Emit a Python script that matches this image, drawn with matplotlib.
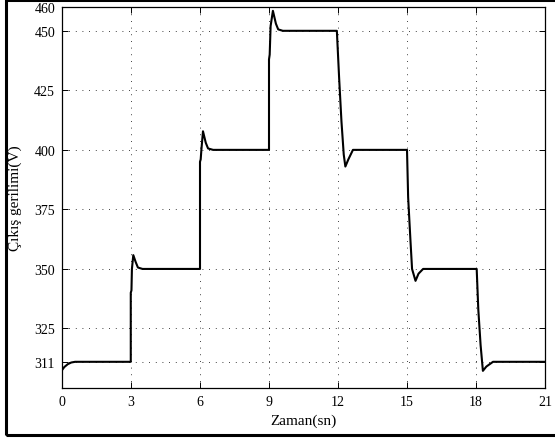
import matplotlib.pyplot as plt
from matplotlib.patches import Rectangle

# output voltage (time in s, voltage in V)
zaman = [0.0, 0.1, 0.25, 0.4, 0.57, 2.99,
         2.99, 3.02, 3.04, 3.1, 3.2, 3.3, 3.5, 6.0,
         6.0, 6.03, 6.06, 6.13, 6.25, 6.35, 6.57, 9.0,
         9.0, 9.03, 9.07, 9.17, 9.3, 9.4, 9.6, 11.95,
         12.05, 12.15, 12.25, 12.32, 12.45, 12.65, 15.0,
         15.05, 15.15, 15.22, 15.37, 15.5, 15.7, 18.03,
         18.1, 18.2, 18.3, 18.45, 18.74, 21.0]
gerilim = [307.5, 308.8, 310.0, 310.7, 311.0, 311.0,
           340.0, 341.0, 350.0, 355.8, 353.0, 350.6, 350.0, 350.0,
           395.0, 396.0, 400.0, 407.8, 403.0, 400.6, 400.0, 400.0,
           438.0, 440.0, 452.0, 458.4, 453.0, 450.6, 450.0, 450.0,
           430.0, 412.0, 398.0, 393.0, 396.0, 400.0, 400.0,
           380.0, 362.0, 350.0, 345.0, 348.0, 350.0, 350.0,
           333.0, 318.0, 307.2, 309.0, 311.0, 311.0]

x_ticks = [0, 3, 6, 9, 12, 15, 18, 21]
y_ticks = [311, 325, 350, 375, 400, 425, 450, 460]

plt.rcParams['font.family'] = ['Liberation Serif', 'DejaVu Serif']

fig = plt.figure(figsize=(5.55, 4.39), dpi=100)
ax = fig.add_axes([62 / 555, 1 - 389 / 439, (545 - 62) / 555, (389 - 8) / 439])

ax.plot(zaman, gerilim, color='black', lw=1.5)

ax.set_xlim(0, 21)
ax.set_ylim(300, 460)
ax.set_xticks(x_ticks)
ax.set_yticks(y_ticks)
ax.tick_params(direction='in', top=True, right=True, labelsize=10, length=4, width=0.7, pad=5)
ax.grid(True, color='black', linestyle=(0, (1, 7)), linewidth=0.6)
for s in ax.spines.values():
    s.set_linewidth(0.9)

ax.set_xlabel('Zaman(sn)', fontsize=11)
ax.set_ylabel('Çıkış gerilimi(V)', fontsize=11)
ax.xaxis.set_label_coords(0.5, -0.068)
ax.yaxis.set_label_coords(-0.082, 0.5)

# outer frame of the figure
fig.patches.append(Rectangle((6 / 555, 3 / 439), 1.0, 1 - 4 / 439, transform=fig.transFigure,
                             fill=False, edgecolor='black', linewidth=2.2))

fig.savefig('out.png', dpi=100)
